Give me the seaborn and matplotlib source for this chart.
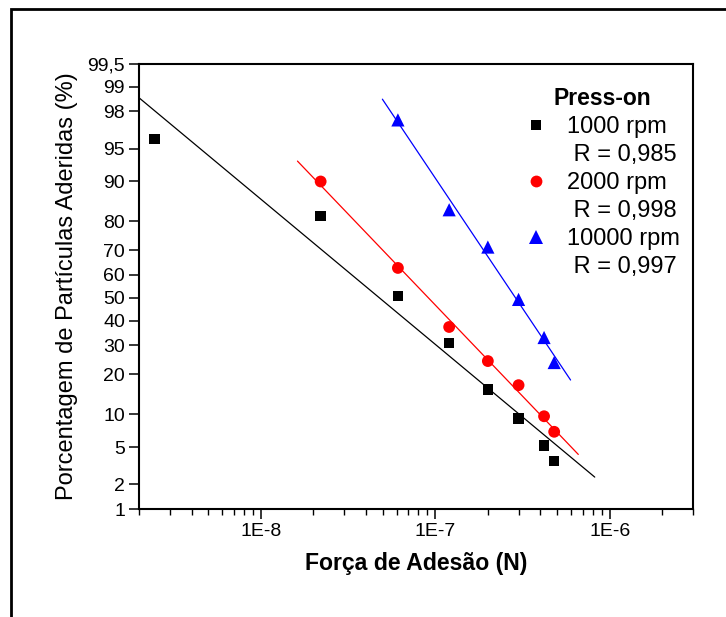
import numpy as np
import pandas as pd
import matplotlib
matplotlib.use("Agg")
import matplotlib.pyplot as plt
import seaborn as sns
from matplotlib.lines import Line2D
from matplotlib.patches import Rectangle
from matplotlib.ticker import FixedLocator, FixedFormatter, NullLocator, LogLocator, NullFormatter
from statistics import NormalDist

# ---------------- data ----------------
x_1000 = [2.45e-9, 2.2e-8, 6.1e-8, 1.2e-7, 2.0e-7, 3.0e-7, 4.2e-7, 4.8e-7]
y_1000 = [96.0, 81.6, 50.8, 30.9, 15.6, 9.2, 5.2, 3.6]
x_2000 = [2.2e-8, 6.1e-8, 1.2e-7, 2.0e-7, 3.0e-7, 4.2e-7, 4.8e-7]
y_2000 = [90.0, 62.9, 37.4, 24.3, 16.8, 9.6, 7.0]
x_10000 = [6.1e-8, 1.2e-7, 2.0e-7, 3.0e-7, 4.2e-7, 4.8e-7]
y_10000 = [97.5, 83.4, 71.2, 49.3, 33.1, 23.8]

series_names = ["1000 rpm", "2000 rpm", "10000 rpm"]
r_labels = ["R = 0,985", "R = 0,998", "R = 0,997"]
fit_ranges = [(2.0e-9, 8.2e-7), (1.62e-8, 6.6e-7), (4.97e-8, 5.96e-7)]

y_ticks = [1, 2, 5, 10, 20, 30, 40, 50, 60, 70, 80, 90, 95, 98, 99, 99.5]
y_tick_labels = ["1", "2", "5", "10", "20", "30", "40", "50", "60", "70",
                 "80", "90", "95", "98", "99", "99,5"]
x_ticks = [1e-8, 1e-7, 1e-6]
x_tick_labels = ["1E-8", "1E-7", "1E-6"]

colors = ["black", "red", "blue"]
markers = ["s", "o", "^"]
msizes = [7.5, 8.5, 9.5]

# ---------------- probability scale ----------------
ND = NormalDist()

def _fwd(v):
    v = float(v)
    if not np.isfinite(v):
        return np.nan
    p = min(max(v / 100.0, 1e-12), 1 - 1e-12)
    return ND.inv_cdf(p)

def _inv(z):
    z = float(z)
    if not np.isfinite(z):
        return np.nan
    return 100.0 * ND.cdf(z)

_fwd_v = np.vectorize(_fwd, otypes=[float])
_inv_v = np.vectorize(_inv, otypes=[float])

def forward(a):
    a = np.asarray(a, dtype=float)
    return _fwd_v(a) if a.size else a

def inverse(a):
    a = np.asarray(a, dtype=float)
    return _inv_v(a) if a.size else a

# ---------------- figure ----------------
sns.set_theme(style="ticks")
plt.rcParams["font.family"] = ["Liberation Sans", "DejaVu Sans"]
plt.rcParams["text.color"] = "black"
plt.rcParams["axes.labelcolor"] = "black"

fig = plt.figure(figsize=(7.26, 6.17), dpi=100)
ax = fig.add_axes([139 / 726, 1 - 509 / 617, (693 - 139) / 726, (509 - 64) / 617])

ax.set_xscale("log")
ax.set_yscale("function", functions=(forward, inverse))

df = pd.concat([
    pd.DataFrame({"x": x_1000, "y": y_1000, "s": series_names[0]}),
    pd.DataFrame({"x": x_2000, "y": y_2000, "s": series_names[1]}),
    pd.DataFrame({"x": x_10000, "y": y_10000, "s": series_names[2]}),
])

xs_all = [x_1000, x_2000, x_10000]
ys_all = [y_1000, y_2000, y_10000]
for i, name in enumerate(series_names):
    sub = df[df["s"] == name]
    # fit line (probit vs log10 x)
    coef = np.polyfit(np.log10(xs_all[i]), forward(ys_all[i]), 1)
    lx = np.logspace(np.log10(fit_ranges[i][0]), np.log10(fit_ranges[i][1]), 60)
    ly = inverse(np.polyval(coef, np.log10(lx)))
    ax.plot(lx, ly, color=colors[i], lw=0.9, zorder=2)
    sns.scatterplot(data=sub, x="x", y="y", ax=ax, color=colors[i], marker=markers[i],
                    s=msizes[i] ** 2, edgecolor="none", linewidth=0, zorder=3, legend=False)

ax.set_xlim(2e-9, 3e-6)
ax.set_ylim(1, 99.5)

ax.yaxis.set_major_locator(FixedLocator(y_ticks))
ax.yaxis.set_major_formatter(FixedFormatter(y_tick_labels))
ax.yaxis.set_minor_locator(NullLocator())
ax.xaxis.set_major_locator(FixedLocator(x_ticks))
ax.xaxis.set_major_formatter(FixedFormatter(x_tick_labels))
ax.xaxis.set_minor_locator(LogLocator(base=10, subs=np.arange(2, 10), numticks=20))
ax.xaxis.set_minor_formatter(NullFormatter())

ax.tick_params(axis="both", which="major", direction="out", length=7, width=1.1,
               labelsize=14, colors="black", pad=3)
ax.tick_params(axis="x", which="minor", direction="out", length=4, width=1.0, colors="black")
ax.tick_params(top=False, right=False, which="both")
for sp in ax.spines.values():
    sp.set_visible(True)
    sp.set_linewidth(1.5)
    sp.set_color("black")

ax.set_xlabel("Força de Adesão (N)", fontsize=16.6, fontweight="bold", labelpad=9)
ax.set_ylabel("Porcentagem de Partículas Aderidas (%)", fontsize=17, labelpad=7)

# legend
handles, labels = [], []
blank = Line2D([], [], linestyle="none", marker=None)
for i, name in enumerate(series_names):
    handles.append(Line2D([], [], linestyle="none", marker=markers[i], color=colors[i],
                          markersize=msizes[i], markeredgewidth=0))
    labels.append(name)
    handles.append(blank)
    labels.append(" " + r_labels[i])
leg = ax.legend(handles, labels, title="Press-on", loc="upper left",
                bbox_to_anchor=(0.687, 0.958), frameon=False, fontsize=17,
                title_fontproperties={"weight": "bold", "size": 16.5},
                labelspacing=0.25, handlelength=1.0, handletextpad=0.82,
                borderaxespad=0.0, borderpad=0.2)

# outer frame
fig.patches.append(Rectangle((11 / 726, -0.1), 1.2, 1 - 9 / 617 + 0.1, transform=fig.transFigure,
                             fill=False, edgecolor="black", lw=2, zorder=10))

fig.savefig("out.png", dpi=100)
